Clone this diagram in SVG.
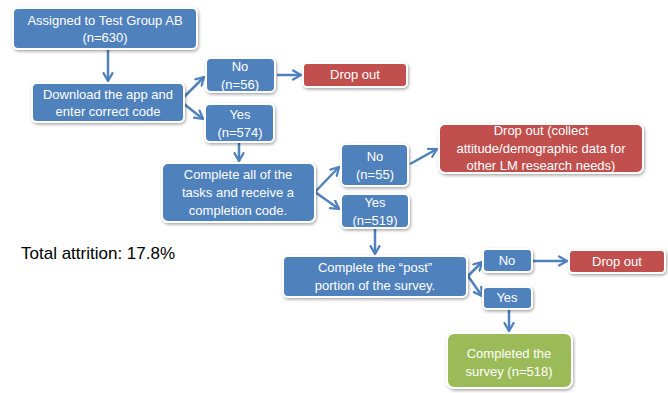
<svg xmlns="http://www.w3.org/2000/svg" width="668" height="393" viewBox="0 0 668 393">
  <defs>
    <filter id="shadow" x="-10%" y="-20%" width="130%" height="150%">
      <feDropShadow dx="1" dy="1.5" stdDeviation="1.5" flood-color="#000" flood-opacity="0.35"/>
    </filter>
    <marker id="arrow" viewBox="0 0 10 10" refX="8" refY="5" markerWidth="4.5" markerHeight="4.5" orient="auto" markerUnits="strokeWidth">
      <path d="M1,1 L8,5 L1,9" fill="none" stroke="#4F81BD" stroke-width="2" stroke-linecap="round" stroke-linejoin="round"/>
    </marker>
    <style>
      .box { stroke: #fff; stroke-width: 2; filter: url(#shadow); }
      .blue { fill: #4F81BD; }
      .red { fill: #C0504D; }
      .green { fill: #9BBB59; }
      .lbl { font-family: "Liberation Sans", Arial, sans-serif; font-size: 13px; fill: #fff; text-anchor: middle; }
      .conn { stroke: #4F81BD; stroke-width: 2.5; fill: none; marker-end: url(#arrow); }
      .note { font-family: "Liberation Sans", Arial, sans-serif; font-size: 17px; fill: #000; }
    </style>
  </defs>
  <rect width="668" height="393" fill="#fff"/>

  <g id="connectors">
    <line class="conn" x1="108" y1="50" x2="108" y2="81"/>
    <line class="conn" x1="183" y1="98" x2="204" y2="77"/>
    <line class="conn" x1="184" y1="104" x2="203" y2="119"/>
    <line class="conn" x1="277" y1="75" x2="301" y2="75"/>
    <line class="conn" x1="239" y1="143" x2="239" y2="161"/>
    <line class="conn" x1="315" y1="192" x2="339" y2="167"/>
    <line class="conn" x1="315" y1="192" x2="339" y2="209"/>
    <line class="conn" x1="410" y1="164" x2="437" y2="149"/>
    <line class="conn" x1="375" y1="229" x2="375" y2="254"/>
    <line class="conn" x1="468" y1="276" x2="482" y2="262"/>
    <line class="conn" x1="468" y1="276" x2="482" y2="296"/>
    <line class="conn" x1="533" y1="261" x2="567" y2="261"/>
    <line class="conn" x1="509" y1="310" x2="509" y2="331"/>
  </g>

  <g id="assigned">
    <rect class="box blue" x="13" y="8" width="184" height="41" rx="5"/>
    <text class="lbl" x="105" y="25">Assigned to Test Group AB</text>
    <text class="lbl" x="105" y="42">(n=630)</text>
  </g>

  <g id="download">
    <rect class="box blue" x="32" y="83" width="152" height="39" rx="5"/>
    <text class="lbl" x="108" y="99">Download the app and</text>
    <text class="lbl" x="108" y="116">enter correct code</text>
  </g>

  <g id="no56">
    <rect class="box blue" x="206" y="58" width="69" height="34" rx="5"/>
    <text class="lbl" x="240" y="71">No</text>
    <text class="lbl" x="240" y="89">(n=56)</text>
  </g>

  <g id="dropout1">
    <rect class="box red" x="303" y="63" width="104" height="24" rx="4"/>
    <text class="lbl" x="355" y="79">Drop out</text>
  </g>

  <g id="yes574">
    <rect class="box blue" x="205" y="104" width="69" height="38" rx="5"/>
    <text class="lbl" x="240" y="119">Yes</text>
    <text class="lbl" x="240" y="137">(n=574)</text>
  </g>

  <g id="tasks">
    <rect class="box blue" x="162" y="163" width="153" height="59" rx="6"/>
    <text class="lbl" x="238" y="179">Complete all of the</text>
    <text class="lbl" x="238" y="197">tasks and receive a</text>
    <text class="lbl" x="238" y="215">completion code.</text>
  </g>

  <g id="no55">
    <rect class="box blue" x="341" y="144" width="67" height="42" rx="5"/>
    <text class="lbl" x="375" y="161">No</text>
    <text class="lbl" x="375" y="179">(n=55)</text>
  </g>

  <g id="dropout2">
    <rect class="box red" x="439" y="124" width="204" height="49" rx="6"/>
    <text class="lbl" x="541" y="135">Drop out (collect</text>
    <text class="lbl" x="541" y="153">attitude/demographic data for</text>
    <text class="lbl" x="541" y="170">other LM research needs)</text>
  </g>

  <g id="yes519">
    <rect class="box blue" x="341" y="194" width="68" height="34" rx="5"/>
    <text class="lbl" x="375" y="207">Yes</text>
    <text class="lbl" x="375" y="225">(n=519)</text>
  </g>

  <g id="post">
    <rect class="box blue" x="283" y="256" width="184" height="41" rx="5"/>
    <text class="lbl" x="375" y="272">Complete the “post”</text>
    <text class="lbl" x="375" y="290">portion of the survey.</text>
  </g>

  <g id="no-post">
    <rect class="box blue" x="483" y="249" width="49" height="23" rx="4"/>
    <text class="lbl" x="507" y="265">No</text>
  </g>

  <g id="dropout3">
    <rect class="box red" x="569" y="250" width="96" height="23" rx="4"/>
    <text class="lbl" x="617" y="266">Drop out</text>
  </g>

  <g id="yes-post">
    <rect class="box blue" x="483" y="287" width="49" height="22" rx="4"/>
    <text class="lbl" x="507" y="302">Yes</text>
  </g>

  <g id="completed">
    <rect class="box green" x="447" y="333" width="125" height="55" rx="7"/>
    <text class="lbl" x="509" y="358">Completed the</text>
    <text class="lbl" x="509" y="376">survey (n=518)</text>
  </g>

  <text class="note" x="21" y="259">Total attrition: 17.8%</text>
</svg>
